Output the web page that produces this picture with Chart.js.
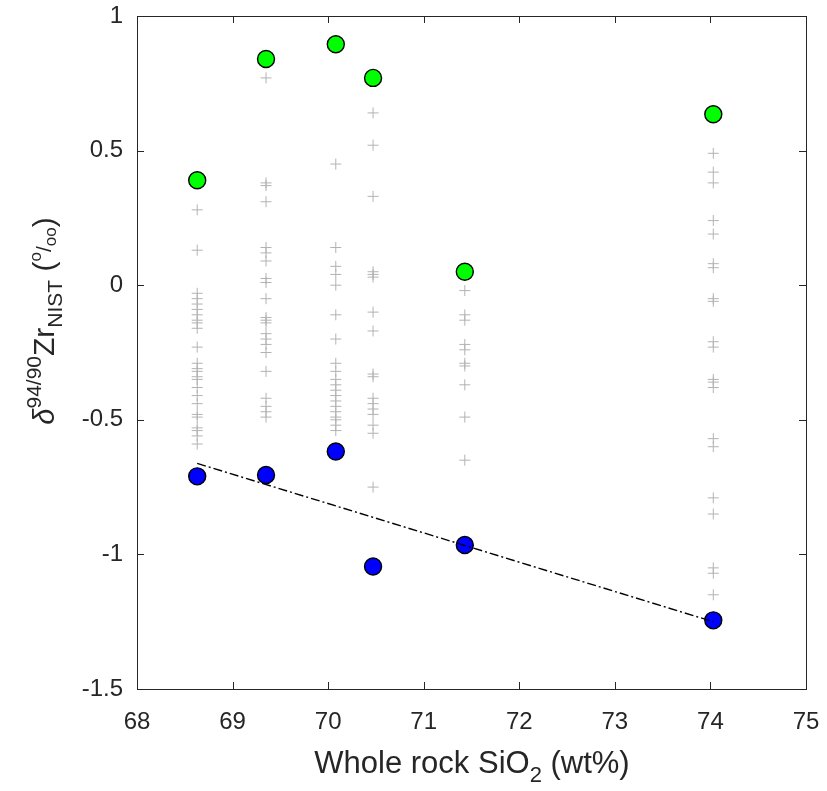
<!DOCTYPE html>
<html>
<head>
<meta charset="utf-8">
<script src="https://cdn.jsdelivr.net/npm/chart.js@4/dist/chart.umd.min.js"></script>
<style>
  html, body { margin: 0; padding: 0; background: #fff; }
  #wrap { width: 827px; height: 791px; }
</style>
</head>
<body>
<div id="wrap"><canvas id="zrChart" width="827" height="791"></canvas></div>
<script>
// sample positions on the SiO2 axis (one column per rock)
const sio2 = [68.63, 69.35, 70.08, 70.47, 71.43, 74.03];

// heaviest and lightest grain per rock
const maxZr = [0.39, 0.84, 0.895, 0.77, 0.05, 0.635];
const minZr = [-0.71, -0.705, -0.618, -1.045, -0.965, -1.245];

// individual grain analyses (grey crosses), one list per column
const grains1 = [0.28, 0.13, -0.03, -0.05, -0.07, -0.09, -0.11, -0.13, -0.14, -0.16, -0.23, -0.29, -0.31, -0.32, -0.34, -0.35, -0.38, -0.41, -0.44, -0.48, -0.49, -0.53, -0.54, -0.56, -0.59];
const grains2 = [0.77, 0.38, 0.37, 0.31, 0.14, 0.12, 0.09, 0.025, 0.01, -0.05, -0.12, -0.13, -0.14, -0.18, -0.2, -0.22, -0.25, -0.32, -0.42, -0.45, -0.47, -0.49];
const grains3 = [0.45, 0.14, 0.07, 0.04, 0.0, -0.11, -0.2, -0.29, -0.32, -0.35, -0.37, -0.39, -0.41, -0.43, -0.45, -0.47, -0.49, -0.5, -0.52, -0.54];
const grains4 = [0.64, 0.52, 0.33, 0.05, 0.04, 0.03, -0.1, -0.17, -0.33, -0.34, -0.42, -0.44, -0.46, -0.48, -0.52, -0.55, -0.75];
const grains5 = [-0.02, -0.11, -0.13, -0.22, -0.24, -0.29, -0.3, -0.37, -0.49, -0.65];
const grains6 = [0.49, 0.42, 0.38, 0.24, 0.19, 0.08, 0.065, -0.05, -0.06, -0.21, -0.23, -0.35, -0.36, -0.38, -0.57, -0.6, -0.79, -0.85, -1.05, -1.07, -1.15];
const grainCols = [grains1, grains2, grains3, grains4, grains5, grains6];

// regression through the minima
const fitX = [68.63, 74.03];
const fitY = [-0.662, -1.25];

// axis ticks
const xTicks = [68, 69, 70, 71, 72, 73, 74, 75];
const yTicks = [1, 0.5, 0, -0.5, -1, -1.5];

const FONT = "'Liberation Sans', Arial, Helvetica, sans-serif";
const TXT = '#262626';

// build point lists from the arrays above
let grainPts = [];
grainCols.forEach((col, i) => col.forEach(v => grainPts.push({ x: sio2[i], y: v })));
const maxPts = sio2.map((x, i) => ({ x: x, y: maxZr[i] }));
const minPts = sio2.map((x, i) => ({ x: x, y: minZr[i] }));
const fitPts = fitX.map((x, i) => ({ x: x, y: fitY[i] }));

// draws a run of text pieces with super/subscripts, returns the width
function drawRich(ctx, parts, x, y, measureOnly) {
    let cx = x;
    parts.forEach(p => {
        ctx.font = (p.italic ? 'italic ' : '') + p.size + 'px ' + FONT;
        const w = ctx.measureText(p.t).width;
        if (!measureOnly) ctx.fillText(p.t, cx, y + (p.dy || 0));
        cx += w;
    });
    return cx - x;
}

// box, inward ticks and the axis titles (MATLAB look)
const framePlugin = {
    id: 'frame',
    afterDraw(chart) {
        const ctx = chart.ctx;
        const a = chart.chartArea;
        const xs = chart.scales.x, ys = chart.scales.y;
        ctx.save();
        ctx.strokeStyle = TXT;
        ctx.lineWidth = 1;
        ctx.strokeRect(a.left + 0.5, a.top + 0.5, a.right - a.left, a.bottom - a.top);
        const tl = 7;
        ctx.beginPath();
        xTicks.forEach(v => {
            const px = Math.round(xs.getPixelForValue(v)) + 0.5;
            ctx.moveTo(px, a.bottom); ctx.lineTo(px, a.bottom - tl);
            ctx.moveTo(px, a.top); ctx.lineTo(px, a.top + tl);
        });
        yTicks.forEach(v => {
            const py = Math.round(ys.getPixelForValue(v)) + 0.5;
            ctx.moveTo(a.left, py); ctx.lineTo(a.left + tl, py);
            ctx.moveTo(a.right, py); ctx.lineTo(a.right - tl, py);
        });
        ctx.stroke();

        ctx.fillStyle = TXT;
        ctx.textBaseline = 'alphabetic';
        ctx.textAlign = 'left';

        // x title
        const xParts = [
            { t: 'Whole rock SiO', size: 31 },
            { t: '2', size: 22, dy: 9 },
            { t: ' (wt%)', size: 31 }
        ];
        const xw = drawRich(ctx, xParts, 0, 0, true);
        drawRich(ctx, xParts, 472 - xw / 2, 773);

        // y title, rotated
        const yParts = [
            { t: 'δ', size: 29, italic: true },
            { t: '94/90', size: 21, dy: -13 },
            { t: 'Zr', size: 30 },
            { t: 'NIST', size: 21, dy: 8 },
            { t: ' (', size: 30 },
            { t: 'o', size: 17, dy: -13 },
            { t: '/', size: 21, dy: -3 },
            { t: 'oo', size: 17, dy: 2 },
            { t: ')', size: 30 }
        ];
        const yw = drawRich(ctx, yParts, 0, 0, true);
        ctx.translate(54, 321);
        ctx.rotate(-Math.PI / 2);
        drawRich(ctx, yParts, -yw / 2, 0);
        ctx.restore();
    }
};

const ctx = document.getElementById('zrChart').getContext('2d');
const zrChart = new Chart(ctx, {
    type: 'scatter',
    data: {
        datasets: [
            {
                label: 'fit',
                type: 'line',
                data: fitPts,
                borderColor: '#000',
                borderWidth: 1.4,
                borderDash: [9, 3, 2, 3],
                pointRadius: 0,
                fill: false,
                order: 0
            },
            {
                label: 'max',
                data: maxPts,
                pointStyle: 'circle',
                pointRadius: 8.5,
                backgroundColor: '#00ff00',
                borderColor: '#000',
                borderWidth: 1.4,
                order: 1
            },
            {
                label: 'min',
                data: minPts,
                pointStyle: 'circle',
                pointRadius: 8.5,
                backgroundColor: '#0000ff',
                borderColor: '#000',
                borderWidth: 1.4,
                order: 1
            },
            {
                label: 'grains',
                data: grainPts,
                pointStyle: 'cross',
                pointRadius: 5.5,
                borderColor: '#b3b3b3',
                borderWidth: 1,
                order: 2
            }
        ]
    },
    options: {
        responsive: false,
        animation: false,
        layout: { padding: { top: 16, right: 21, left: 0, bottom: 0 } },
        plugins: {
            legend: { display: false },
            tooltip: { enabled: false }
        },
        scales: {
            x: {
                type: 'linear',
                min: 68,
                max: 75,
                afterFit: (s) => {
                    s.height = 102;
                    s.paddingLeft = 0; s.paddingRight = 0;
                },
                afterBuildTicks: (s) => { s.ticks = xTicks.map(v => ({ value: v })); },
                grid: { display: false },
                border: { display: false },
                ticks: {
                    color: TXT,
                    padding: 11,
                    font: { family: FONT, size: 24 }
                }
            },
            y: {
                type: 'linear',
                min: -1.5,
                max: 1,
                afterFit: (s) => {
                    s.width = 137;
                    s.paddingTop = 0; s.paddingBottom = 0;
                },
                afterBuildTicks: (s) => { s.ticks = yTicks.map(v => ({ value: v })); },
                grid: { display: false },
                border: { display: false },
                ticks: {
                    color: TXT,
                    padding: 6,
                    font: { family: FONT, size: 24 },
                    callback: (v) => String(v)
                }
            }
        }
    },
    plugins: [framePlugin]
});
</script>
</body>
</html>
